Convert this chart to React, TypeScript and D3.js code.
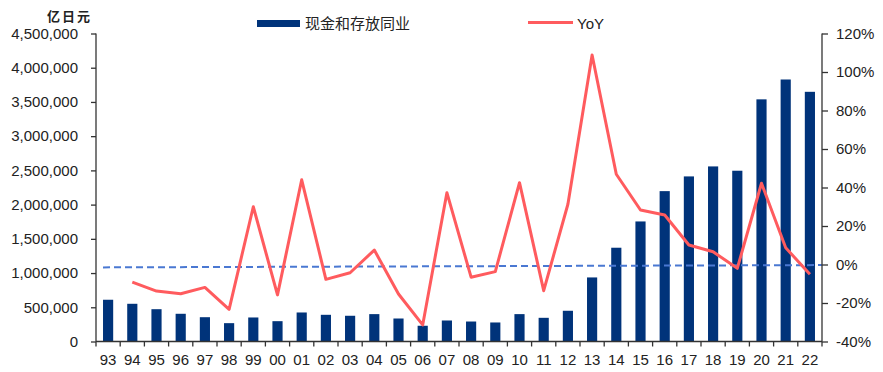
import React, {useRef, useEffect} from "react";
import * as d3 from "d3";

const years = ["93", "94", "95", "96", "97", "98", "99", "00", "01", "02", "03", "04", "05", "06", "07", "08", "09", "10", "11", "12", "13", "14", "15", "16", "17", "18", "19", "20", "21", "22"];

// 现金和存放同业 (亿日元)
const cashValues = [610000, 551000, 472000, 405000, 355000, 268000, 351000, 297000, 424000, 390000, 376000, 400000, 336000, 230000, 307000, 292000, 278000, 400000, 346000, 449000, 936000, 1370000, 1754000, 2197000, 2412000, 2558000, 2495000, 3538000, 3828000, 3648000];

// YoY (first year has none)
const yoyValues = [null, -9.2, -13.8, -15.2, -11.9, -23.3, 30.0, -15.8, 44.0, -7.7, -4.3, 7.5, -15.3, -31.4, 37.3, -6.6, -3.7, 42.5, -13.6, 31.3, 108.8, 46.9, 28.3, 25.7, 10.1, 6.6, -2.0, 42.2, 8.7, -5.1];

// dashed reference line, start / end value in %
const refLine = [-1.5, -0.3];

const leftTicks = [0, 500000, 1000000, 1500000, 2000000, 2500000, 3000000, 3500000, 4000000, 4500000];
const rightTicks = [-40, -20, 0, 20, 40, 60, 80, 100, 120];

const BAR = "#00337a";
const LINE = "#ff5b5e";
const DASH = "#4a78d2";
const AXIS = "#333";
const FONT = "Liberation Sans, Arial, sans-serif";

export default function App() {
  const svgRef = useRef<SVGSVGElement>(null);

  useEffect(() => {
    const svg = d3.select(svgRef.current);
    svg.selectAll("*").remove();

    const left = 96, right = 822, top = 33.5, bottom = 341.5;

    const x = d3.scaleBand().domain(years).range([left, right]).paddingInner(0.58).paddingOuter(0.29);
    const yL = d3.scaleLinear().domain([0, 4500000]).range([bottom, top]);
    const yR = d3.scaleLinear().domain([-40, 120]).range([bottom, top]);
    const step = x.step();
    const cx = (d) => x(d) + x.bandwidth() / 2;

    // bars
    svg.append("g")
      .selectAll("rect")
      .data(years)
      .join("rect")
      .attr("x", (d) => x(d))
      .attr("width", x.bandwidth())
      .attr("y", (d, i) => yL(cashValues[i]))
      .attr("height", (d, i) => bottom - yL(cashValues[i]))
      .attr("fill", BAR);

    // dashed line
    svg.append("line")
      .attr("x1", x(years[0]))
      .attr("x2", right)
      .attr("y1", yR(refLine[0]))
      .attr("y2", yR(refLine[1]))
      .attr("stroke", DASH)
      .attr("stroke-width", 2)
      .attr("stroke-dasharray", "7,4");

    // YoY line
    const line = d3.line()
      .defined((d) => d[1] != null)
      .x((d) => cx(d[0]))
      .y((d) => yR(d[1]));
    svg.append("path")
      .datum(years.map((y, i) => [y, yoyValues[i]]))
      .attr("d", line)
      .attr("fill", "none")
      .attr("stroke", LINE)
      .attr("stroke-width", 3)
      .attr("stroke-linejoin", "round");

    // axes
    const gL = svg.append("g")
      .attr("transform", `translate(${left},0)`)
      .call(d3.axisLeft(yL).tickValues(leftTicks).tickSize(5).tickPadding(13).tickFormat(d3.format(",")));
    const gR = svg.append("g")
      .attr("transform", `translate(${right},0)`)
      .call(d3.axisRight(yR).tickValues(rightTicks).tickSize(6).tickPadding(8).tickFormat((d) => d + "%"));
    [gL, gR].forEach((g) => {
      g.select(".domain").attr("stroke", AXIS).attr("stroke-width", 1.3).attr("d", `M0,${top}V${bottom}`);
      g.selectAll(".tick line").attr("stroke", AXIS).attr("stroke-width", 1.3);
      g.selectAll("text").attr("fill", "#222").style("font-size", "15px").style("font-family", FONT);
    });

    // x axis
    const gx = svg.append("g");
    gx.append("line")
      .attr("x1", left).attr("x2", right)
      .attr("y1", bottom).attr("y2", bottom)
      .attr("stroke", AXIS).attr("stroke-width", 1.3);
    gx.selectAll(".xt")
      .data(d3.range(years.length + 1))
      .join("line")
      .attr("class", "xt")
      .attr("x1", (i) => left + i * step)
      .attr("x2", (i) => left + i * step)
      .attr("y1", bottom)
      .attr("y2", bottom + 5)
      .attr("stroke", AXIS).attr("stroke-width", 1.3);
    gx.selectAll(".xl")
      .data(years)
      .join("text")
      .attr("class", "xl")
      .attr("x", (d) => cx(d))
      .attr("y", 365)
      .attr("text-anchor", "middle")
      .attr("fill", "#222")
      .style("font-size", "15px")
      .style("font-family", FONT)
      .text((d) => d);

    // unit label
    svg.append("text")
      .attr("x", 47).attr("y", 21)
      .attr("fill", "#222")
      .style("font-size", "13px")
      .style("font-weight", "bold")
      .style("letter-spacing", "2px")
      .style("font-family", "Noto Sans CJK SC, sans-serif")
      .text("亿日元");

    // legend
    svg.append("rect").attr("x", 257).attr("y", 20).attr("width", 43).attr("height", 7).attr("fill", BAR);
    svg.append("text")
      .attr("x", 305).attr("y", 29)
      .attr("fill", "#222")
      .style("font-size", "15px")
      .style("font-family", "Noto Sans CJK SC, sans-serif")
      .text("现金和存放同业");
    svg.append("line").attr("x1", 528).attr("x2", 573).attr("y1", 22.5).attr("y2", 22.5)
      .attr("stroke", LINE).attr("stroke-width", 3);
    svg.append("text")
      .attr("x", 577).attr("y", 28.5)
      .attr("fill", "#222")
      .style("font-size", "15px")
      .style("font-family", FONT)
      .text("YoY");

    return () => {
      d3.select(svgRef.current).selectAll("*").remove();
    };
  }, []);

  return (
    <svg
      ref={svgRef}
      width={883}
      height={372}
      style={{position: "absolute", left: 0, top: 0, background: "#fff"}}
    />
  );
}
